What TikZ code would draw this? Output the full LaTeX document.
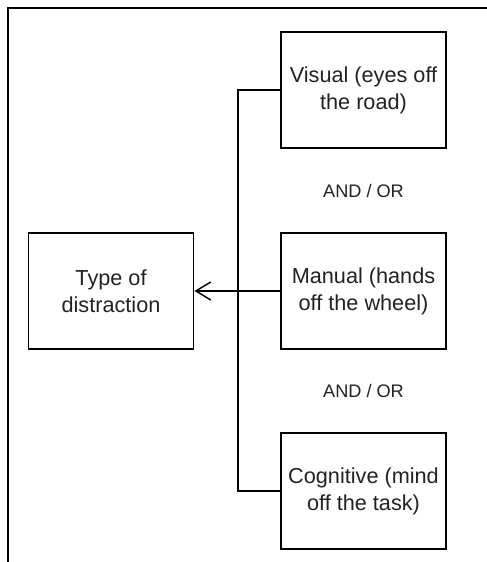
\documentclass[tikz,border=0pt]{standalone}
\usepackage{fontspec}
\setmainfont{Liberation Sans}
\definecolor{txtgray}{RGB}{34,34,34}
\usetikzlibrary{arrows.meta,positioning}

\begin{document}
\begin{tikzpicture}[x=0.03cm,y=-0.03cm,
  dbox/.style={draw,line width=1.6pt,minimum width=4.95cm,minimum height=3.5cm,
    font=\fontsize{18.5}{23}\selectfont,text=txtgray,align=center,inner sep=2pt},
  andor/.style={font=\fontsize{15.5}{18}\selectfont,text=txtgray},
  link/.style={line width=1.2pt}
]
  \useasboundingbox (0,0) rectangle (487,562);
  \draw[line width=1.6pt] (487,8) -- (8,8) -- (8,562);

  \node[dbox] (visual) at (363.5,90) {Visual (eyes off\\the road)};
  \node[dbox] (manual) at (363.5,291) {Manual (hands\\off the wheel)};
  \node[dbox] (cogn) at (363.5,491) {Cognitive (mind\\off the task)};
  \node[dbox] (type) at (111,291) {Type of\\distraction};

  \node[andor] (or1) at (363.5,191) {AND / OR};
  \node[andor] (or2) at (363.5,391) {AND / OR};

  \coordinate (jt) at (238,90);
  \coordinate (jb) at (238,491);
  \draw[link] (visual.west) -- (jt) -- (jb) -- (cogn.west);
  \draw[link,-{Straight Barb[length=4.5mm,width=5.4mm]}] (manual.west) -- (type.east);
\end{tikzpicture}
\end{document}
